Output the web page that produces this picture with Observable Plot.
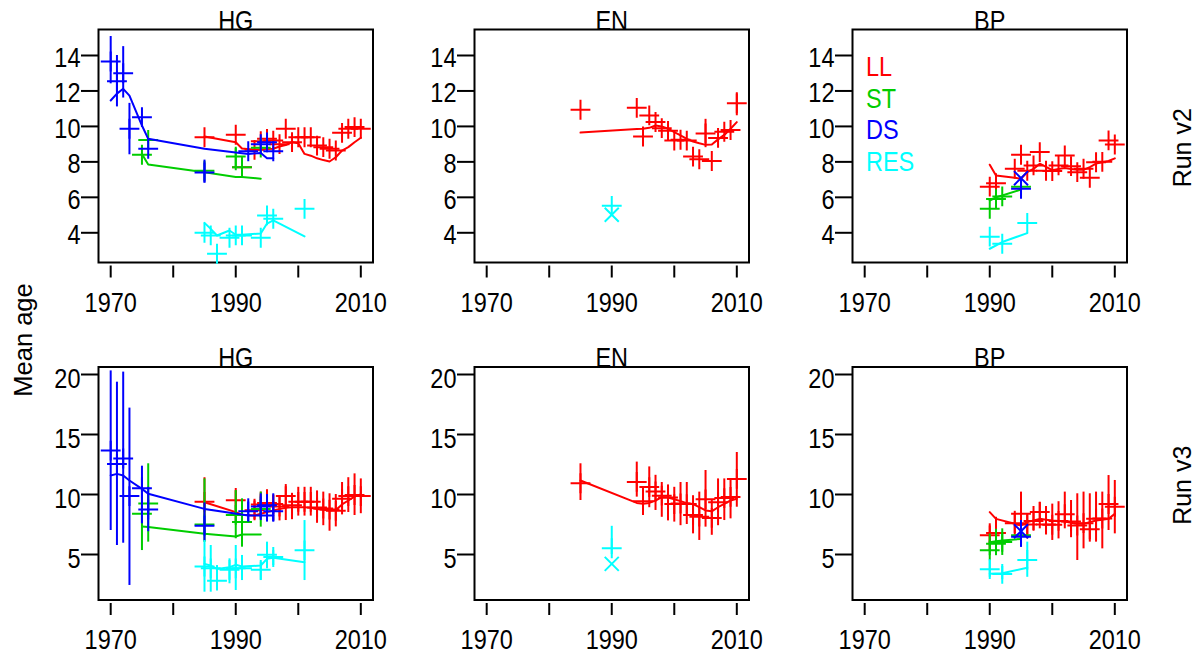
<!DOCTYPE html>
<html><head><meta charset="utf-8">
<script src="https://cdn.jsdelivr.net/npm/d3@7"></script>
<script src="https://cdn.jsdelivr.net/npm/@observablehq/plot@0.6"></script>
<style>
body{margin:0;background:#fff;overflow:hidden}
#fig{position:relative;width:1202px;height:653px;font-family:"Liberation Sans",Arial,Helvetica,sans-serif;background:#fff}
#fig svg{position:absolute;overflow:visible}
#ylab{position:absolute;width:200px;height:30px;line-height:30px;text-align:center;font-size:25.5px;left:-77.5px;top:325px;transform:rotate(-90deg);color:#000}
</style></head><body><div id="fig"><div id="ylab">Mean age</div></div>
<script>
const regions = ["HG", "EN", "BP"];
const fleets = ["LL", "ST", "DS", "RES"];
const fleetColors = ["#ff0000", "#00cd00", "#0000ff", "#00ffff"];
const runs = ["Run v2", "Run v3"];
const yTicksV2 = [4, 6, 8, 10, 12, 14];
const yTicksV3 = [5, 10, 15, 20];
const xTicks = [1970, 1980, 1990, 2000, 2010];
const xTickLabels = ["1970", "", "1990", "", "2010"];

// columns: year, observed mean age, fit v2, fit v3, CI low v2, CI high v2, CI low v3, CI high v3
const HG_LL = [
  [1985, 9.39, 9.43, 9.36, null, null, 8.2, 11.4],
  [1990, 9.53, 9.11, 8.53, null, null, 7.6, 10.5],
  [1991, 7.7, 8.75, 8.31, null, null, 6.9, 8.6],
  [1993, 8.68, 8.68, 8.25, null, null, 7.9, 9.6],
  [1994, 9.17, 8.7, 8.39, null, null, 8.0, 10.2],
  [1995, 9.3, 8.72, 8.53, null, null, 8.1, 10.4],
  [1996, 9.2, 8.74, 8.67, null, null, 7.8, 9.9],
  [1997, 9.0, 8.87, 8.8, null, null, 7.8, 9.9],
  [1998, 9.87, 8.95, 8.89, null, null, 7.83, 10.83],
  [1999, 9.11, 9.11, 8.94, null, null, 7.9, 10.1],
  [2000, 9.39, 9.05, 8.94, null, null, 8.2, 10.6],
  [2001, 9.39, 8.45, 8.94, null, null, 8.2, 10.6],
  [2002, 9.39, 8.35, 8.9, null, null, 8.2, 10.6],
  [2003, 8.92, 8.2, 8.8, null, null, 7.6, 10.3],
  [2004, 8.83, 8.1, 8.72, null, null, 7.4, 10.2],
  [2005, 8.74, 8.02, 8.67, null, null, 6.94, 10.06],
  [2006, 8.64, 8.26, 8.7, null, null, 7.3, 10.0],
  [2007, 9.64, 8.64, 9.17, null, null, 8.3, 11.0],
  [2008, 9.87, 8.83, 9.5, null, null, 8.5, 11.4],
  [2009, 9.96, 9.11, 9.83, null, null, 8.25, 11.72],
  [2010, 9.87, 9.36, 10.0, null, null, 8.4, 11.3]
];
const HG_ST = [
  [1975, 8.4, 8.45, 7.33, null, null, 5.33, 11.44],
  [1976, 9.24, 7.85, 7.3, null, null, 6.03, 12.56],
  [1985, 7.5, 7.42, 6.72, null, null, 6.0, 11.3],
  [1990, 8.3, 7.15, 6.5, 7.5, 8.75, 6.31, 10.33],
  [1991, 7.7, 7.15, 6.67, null, null, 5.61, 9.64],
  [1994, 8.8, 7.05, 6.67, null, null, 7.28, 10.2]
];
const HG_DS = [
  [1970, 13.66, 11.46, 11.58, 12.4, 15.07, 7.0, 20.3],
  [1971, 12.55, 11.85, 11.72, 11.1, 14.0, 5.75, 19.36],
  [1972, 13.0, 12.12, 11.58, 11.6, 14.5, 5.94, 20.2],
  [1973, 9.87, 11.74, 11.17, 8.4, 11.3, 2.42, 17.2],
  [1975, 10.52, 10.05, 10.47, null, null, 7.56, 12.36],
  [1976, 8.74, 9.3, 10.06, null, null, 6.9, 10.6],
  [1985, 7.4, 8.74, 8.8, 6.8, 8.1, 6.1, 9.3],
  [1992, 8.6, 8.45, 8.25, null, null, 7.7, 9.64],
  [1994, 9.0, 8.5, 8.25, null, null, 7.83, 10.06],
  [1995, 9.1, 8.2, 8.25, null, null, 7.7, 10.0],
  [1996, 8.6, 8.2, 8.25, null, null, 7.7, 10.06]
];
const HG_RES = [
  [1985, 4.0, 4.56, 4.22, null, null, 1.86, 6.17],
  [1986, 3.85, 4.22, 4.08, null, null, 1.86, 5.75],
  [1987, 2.82, 3.85, 3.8, null, null, 2.0, 4.08],
  [1989, 3.72, 4.13, 3.94, null, null, 2.56, 4.64],
  [1990, 3.85, 3.89, 4.14, null, null, 2.0, 5.75],
  [1991, 3.85, 3.89, 4.0, null, null, 2.83, 4.92],
  [1994, 3.72, 3.96, 4.08, null, null, 2.83, 4.36],
  [1995, 4.98, 4.52, 4.64, null, null, 3.81, 6.03],
  [1996, 4.79, 4.7, 4.72, null, null, 4.08, 5.33],
  [2001, 5.35, 3.8, 4.36, null, null, 2.83, 7.83]
];
const EN_LL = [
  [1985, 10.94, 9.65, 11.17, null, null, 9.5, 12.56],
  [1994, 11.05, 9.85, 9.3, null, null, 9.78, 12.7],
  [1995, 9.43, 9.87, 9.22, null, null, 8.25, 10.6],
  [1996, 10.62, 9.92, 9.3, null, null, 8.9, 12.3],
  [1997, 10.25, 10.05, 9.5, null, null, 8.67, 11.6],
  [1998, 9.9, 10.0, 9.78, null, null, 8.1, 11.0],
  [1999, 9.75, 9.87, 9.75, null, null, 7.8, 10.8],
  [2000, 9.2, 9.68, 9.6, null, null, 7.7, 10.6],
  [2001, 9.25, 9.5, 9.45, null, null, 7.4, 11.0],
  [2002, 9.2, 9.3, 9.28, null, null, 7.5, 11.0],
  [2003, 8.3, 9.15, 9.2, null, null, 6.72, 9.9],
  [2004, 8.15, 9.05, 8.94, null, null, 6.17, 10.2],
  [2005, 9.6, 8.96, 8.67, 8.8, 10.4, 7.28, 12.0],
  [2006, 8.05, 8.98, 8.6, null, null, 6.6, 9.5],
  [2007, 9.35, 9.27, 8.94, null, null, 7.4, 11.3],
  [2008, 9.7, 9.52, 9.22, null, null, 7.83, 11.3],
  [2009, 9.8, 9.87, 9.5, null, null, 7.97, 11.3],
  [2010, 11.3, 10.24, 9.64, 10.6, 11.9, 8.94, 13.5]
];
const EN_RES = [
  [1990, 5.52, 5.02, 4.22, null, null, 5.0, 7.35]
];
const BP_LL = [
  [1990, 6.6, 7.84, 8.53, null, null, 5.33, 7.56],
  [1991, 6.8, 7.23, 7.97, null, null, 5.75, 8.1],
  [1994, 7.61, 7.1, 7.56, null, null, 6.6, 8.6],
  [1995, 8.4, 7.05, 7.42, null, null, 6.72, 10.2],
  [1996, 7.5, 7.43, 7.7, null, null, 6.3, 8.4],
  [1997, 7.8, 7.6, 7.83, null, null, 7.0, 9.0],
  [1998, 8.55, 7.9, 7.97, null, null, 7.14, 9.36],
  [1999, 7.5, 7.72, 7.9, null, null, 6.7, 9.0],
  [2000, 7.48, 7.53, 7.83, null, null, 6.17, 9.2],
  [2001, 7.8, 7.6, 7.8, null, null, 6.3, 9.4],
  [2002, 8.36, 7.65, 7.75, null, null, 7.14, 10.2],
  [2003, 7.76, 7.6, 7.65, null, null, 6.4, 9.5],
  [2004, 7.42, 7.55, 7.56, null, null, 4.5, 10.06],
  [2005, 7.61, 7.55, 7.56, null, null, 5.47, 10.2],
  [2006, 7.1, 7.7, 7.7, null, null, 6.03, 10.06],
  [2007, 7.98, 7.9, 7.83, null, null, 6.03, 10.2],
  [2008, 8.0, 7.98, 7.9, null, null, 5.47, 10.2],
  [2009, 9.21, 8.05, 7.97, null, null, 7.0, 11.58],
  [2010, 8.98, 8.2, 8.39, null, null, 6.72, 11.17]
];
const BP_ST = [
  [1990, 5.35, 5.82, 6.03, null, null, 4.9, 6.7],
  [1991, 5.9, 6.0, 6.1, null, null, 4.9, 7.1],
  [1992, 6.05, 6.1, 6.17, null, null, 4.92, 7.14],
  [1995, 6.6, 6.44, 6.3, null, null, 6.0, 7.3]
];
const BP_DS = [
  [1995, 6.48, 7.08, 6.94, null, null, 5.61, 7.83]
];
const BP_RES = [
  [1990, 3.78, 3.1, 3.39, null, null, 3.1, 4.5],
  [1992, 3.38, 3.48, 3.44, null, null, 2.9, 4.0],
  [1996, 4.55, 3.98, 3.89, null, null, 3.1, 6.03]
];

const series = {
  HG: {LL: HG_LL, ST: HG_ST, DS: HG_DS, RES: HG_RES},
  EN: {LL: EN_LL, RES: EN_RES},
  BP: {LL: BP_LL, ST: BP_ST, DS: BP_DS, RES: BP_RES}
};

// layout
const FL = [97.5, 473.5, 851.5];
const FW = 274.5;
const FH = 233;
const ML = 95;
const rowCfg = [
  {frameTop: 29, plotBottom: 265.5, domain: [2.127, 15.466], ticks: yTicksV2, MT: 29, MB: 56, pad: 14, ldy: 2.5},
  {frameTop: 366.5, plotBottom: 603, domain: [0.917, 20.625], ticks: yTicksV3, MT: 34.5, MB: 50, pad: 13.5, ldy: 4.5}
];
const TXT = 23.5, STRETCH = 1.2, SYM_R = 6.44;

function panelMarks(region, k) {
  const marks = [];
  fleets.forEach((f, fi) => {
    const s = series[region][f];
    if (!s) return;
    const rows = s.map(r => ({year: r[0], obs: r[1], fit: r[2 + k], lo: r[4 + 2 * k], hi: r[5 + 2 * k]}));
    const color = fleetColors[fi];
    marks.push(Plot.ruleX(rows.filter(d => d.lo != null && d.hi != null), {x: "year", y1: "lo", y2: "hi", stroke: color, strokeWidth: 2}));
    if (rows.length > 1) marks.push(Plot.line(rows, {x: "year", y: "fit", stroke: color, strokeWidth: 2}));
    else marks.push(Plot.dot(rows, {x: "year", y: "fit", symbol: "times", r: SYM_R, stroke: color, strokeWidth: 2}));
    marks.push(Plot.dot(rows, {x: "year", y: "obs", symbol: "plus", r: SYM_R, stroke: color, strokeWidth: 2}));
  });
  return marks;
}

const fig = document.getElementById("fig");
rowCfg.forEach((rc, k) => {
  regions.forEach((region, c) => {
    const MR = c === 2 ? 1202 - (FL[2] + FW) : 15;
    const plotH = rc.plotBottom - rc.frameTop;
    const marks = [
      Plot.frame({stroke: "black", strokeWidth: 2, insetBottom: rc.plotBottom - (rc.frameTop + FH)}),
      Plot.axisY({ticks: rc.ticks, tickSize: 17, tickPadding: 1, strokeWidth: 2, label: null, fontSize: TXT}),
      Plot.axisX({ticks: xTicks, tickFormat: d => xTickLabels[xTicks.indexOf(d)], tickSize: 12, tickPadding: rc.pad, strokeWidth: 2, label: null, fontSize: TXT}),
      ...panelMarks(region, k),
      Plot.text([region], {frameAnchor: "top", lineAnchor: "bottom", fontSize: TXT, fill: "black"})
    ];
    if (c === 2) {
      marks.push(Plot.text([runs[k]], {frameAnchor: "right", dx: 56, rotate: -90, fontSize: 25, lineAnchor: "middle", textAnchor: "middle", fill: "black"}));
      if (k === 0) {
        fleets.forEach((f, i) => {
          marks.push(Plot.text([f], {frameAnchor: "top-left", dx: 13.5, dy: 37.7 + i * 31.6, textAnchor: "start", lineAnchor: "middle", fontSize: TXT, fill: fleetColors[i]}));
        });
      }
    }
    const svg = Plot.plot({
      width: ML + FW + MR,
      height: rc.MT + plotH + rc.MB,
      marginLeft: ML, marginRight: MR, marginTop: rc.MT, marginBottom: rc.MB,
      x: {domain: [1968.05, 2011.95]},
      y: {domain: rc.domain},
      style: {fontFamily: '"Liberation Sans", Arial, Helvetica, sans-serif', fontSize: TXT + "px", color: "black", background: "transparent", overflow: "visible"},
      marks
    });
    svg.style.left = (FL[c] - ML) + "px";
    svg.style.top = (rc.frameTop - rc.MT) + "px";
    // R-like tall glyphs for horizontal text; y tick labels sit slightly below their ticks
    svg.querySelectorAll("text").forEach(t => {
      const tr = t.getAttribute("transform") || "";
      if (/rotate/.test(tr)) return;
      const g = t.closest("g[aria-label]");
      const isYLabel = g && g.getAttribute("aria-label") === "y-axis tick label";
      t.setAttribute("transform", ((isYLabel ? "translate(0," + rc.ldy + ") " : "") + tr + " scale(1," + STRETCH + ")").trim());
    });
    fig.appendChild(svg);
  });
});
</script></body></html>
